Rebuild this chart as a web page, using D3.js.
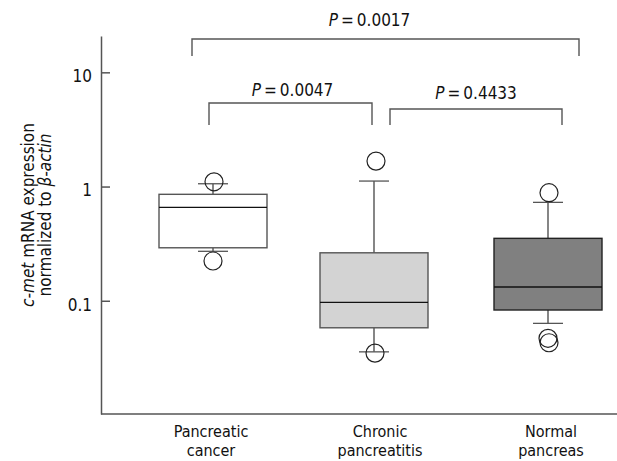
<!DOCTYPE html>
<html lang="en">
<head>
<meta charset="UTF-8">
<title>c-met box plot</title>
<script src="https://d3js.org/d3.v7.min.js"></script>
<style>
  body { margin: 0; background: #fff; }
  svg text { font-family: "DejaVu Sans", "Liberation Sans", sans-serif; font-stretch: condensed; fill: #111; }
  .axis path, .axis line { stroke: #555; stroke-width: 1.5; }
  .axis text { font-size: 17px; }
</style>
</head>
<body>
<script>
// groups
var categories = ["Pancreatic cancer", "Chronic pancreatitis", "Normal pancreas"];
var labelLines = [["Pancreatic", "cancer"], ["Chronic", "pancreatitis"], ["Normal", "pancreas"]];

// box stats
var q1         = [0.291, 0.058, 0.083];
var medians    = [0.658, 0.0968, 0.132];
var q3         = [0.855, 0.263, 0.352];
var whiskerLow = [0.271, 0.0357, 0.0634];
var whiskerHigh= [1.058, 1.117, 0.727];
var outliers   = [[1.10, 0.223], [1.67, 0.0348], [0.883, 0.0469, 0.0429]];

var yTicks = [0.1, 1, 10];

// pairwise comparisons: from group, to group, p value, bracket level, leg bottom
var compFrom  = [0, 0, 1];
var compTo    = [2, 1, 2];
var compP     = ["0.0017", "0.0047", "0.4433"];
var compLevel = [19.57, 5.385, 4.77];
var compFoot  = [13.89, 3.456, 3.456];

var width = 617, height = 461;
var fills = ["#ffffff", "#d3d3d3", "#808080"];

var svg = d3.select("body").append("svg")
    .attr("width", width)
    .attr("height", height);

var x = d3.scaleLinear()
    .domain([0, 1, 2])
    .range([213, 374, 548]);

var y = d3.scaleLog()
    .domain([0.0102, 20.8])
    .range([414, 36]);

var boxW = 108, capW = 30, r = 9;

// y axis
var yAxis = svg.append("g")
    .attr("class", "axis")
    .attr("transform", "translate(101,0)")
    .call(d3.axisLeft(y).tickValues(yTicks).tickFormat(d3.format("~g"))
        .tickSizeInner(-9).tickSizeOuter(0).tickPadding(9));
yAxis.selectAll("text").attr("dy", "0.55em");

// x axis baseline
svg.append("line")
    .attr("x1", 101).attr("x2", width)
    .attr("y1", y.range()[0]).attr("y2", y.range()[0])
    .attr("stroke", "#555").attr("stroke-width", 1.5);

// y title
var yt = svg.append("text")
    .attr("transform", "translate(0,215) rotate(-90)")
    .attr("text-anchor", "middle")
    .style("font-size", "17px");
var l1 = yt.append("tspan").attr("x", 0).attr("y", 34);
l1.append("tspan").style("font-style", "italic").text("c-met");
l1.append("tspan").text(" mRNA expression");
var l2 = yt.append("tspan").attr("x", 0).attr("y", 50.5);
l2.append("tspan").text("normalized to ");
l2.append("tspan").style("font-style", "italic").text("\u03b2-actin");

// boxes
var g = svg.selectAll(".box")
    .data(categories)
    .enter().append("g")
    .attr("class", "box");

g.append("line")
    .attr("x1", function(d, i) { return x(i); })
    .attr("x2", function(d, i) { return x(i); })
    .attr("y1", function(d, i) { return y(whiskerHigh[i]); })
    .attr("y2", function(d, i) { return y(q3[i]); })
    .attr("stroke", "#444").attr("stroke-width", 1.3);
g.append("line")
    .attr("x1", function(d, i) { return x(i); })
    .attr("x2", function(d, i) { return x(i); })
    .attr("y1", function(d, i) { return y(whiskerLow[i]); })
    .attr("y2", function(d, i) { return y(q1[i]); })
    .attr("stroke", "#444").attr("stroke-width", 1.3);
g.append("line")
    .attr("x1", function(d, i) { return x(i) - capW / 2; })
    .attr("x2", function(d, i) { return x(i) + capW / 2; })
    .attr("y1", function(d, i) { return y(whiskerHigh[i]); })
    .attr("y2", function(d, i) { return y(whiskerHigh[i]); })
    .attr("stroke", "#555").attr("stroke-width", 1.3);
g.append("line")
    .attr("x1", function(d, i) { return x(i) - capW / 2; })
    .attr("x2", function(d, i) { return x(i) + capW / 2; })
    .attr("y1", function(d, i) { return y(whiskerLow[i]); })
    .attr("y2", function(d, i) { return y(whiskerLow[i]); })
    .attr("stroke", "#555").attr("stroke-width", 1.3);

g.append("rect")
    .attr("x", function(d, i) { return x(i) - boxW / 2; })
    .attr("y", function(d, i) { return y(q3[i]); })
    .attr("width", boxW)
    .attr("height", function(d, i) { return y(q1[i]) - y(q3[i]); })
    .attr("fill", function(d, i) { return fills[i]; })
    .attr("stroke", function(d, i) { return i == 2 ? "#222" : "#555"; })
    .attr("stroke-width", 1.4);

g.append("line")
    .attr("x1", function(d, i) { return x(i) - boxW / 2; })
    .attr("x2", function(d, i) { return x(i) + boxW / 2; })
    .attr("y1", function(d, i) { return y(medians[i]); })
    .attr("y2", function(d, i) { return y(medians[i]); })
    .attr("stroke", "#111").attr("stroke-width", 1.3);

// outliers
var nudge = [[1, 0], [2, 1], [1, 0, 1]];
g.selectAll("circle")
    .data(function(d, i) { return outliers[i].map(function(v, j) { return {i: i, j: j, v: v}; }); })
    .enter().append("circle")
    .attr("cx", function(d) { return x(d.i) + nudge[d.i][d.j]; })
    .attr("cy", function(d) { return y(d.v); })
    .attr("r", r)
    .attr("fill", "none")
    .attr("stroke", "#222").attr("stroke-width", 1.2);

// category labels, two lines each
var labelShift = [-2, 6, 3];
labelLines.forEach(function(lines, i) {
  lines.forEach(function(t, k) {
    svg.append("text")
        .attr("class", "cat")
        .attr("x", x(i) + labelShift[i])
        .attr("y", 437 + k * 18.8)
        .attr("text-anchor", "middle")
        .style("font-size", "16px")
        .text(t);
  });
});

// significance brackets
var legL = [-21, -4, 16], legR = [31, -2, 14];
var textShift = [-16, 2, 0], textGap = [13, 7, 10];
compP.forEach(function(p, k) {
  var x1 = x(compFrom[k]) + legL[k], x2 = x(compTo[k]) + legR[k];
  var yl = y(compLevel[k]), yf = y(compFoot[k]);
  svg.append("path")
      .attr("d", "M" + x1 + "," + yf + "V" + yl + "H" + x2 + "V" + yf)
      .attr("fill", "none")
      .attr("stroke", "#555").attr("stroke-width", 1.4);
  var t = svg.append("text")
      .attr("x", (x1 + x2) / 2 + textShift[k])
      .attr("y", yl - textGap[k])
      .attr("text-anchor", "middle")
      .style("font-size", "17px");
  t.append("tspan").style("font-style", "italic").text("P");
  t.append("tspan").text("\u2009=\u2009" + p);
});
</script>
</body>
</html>
